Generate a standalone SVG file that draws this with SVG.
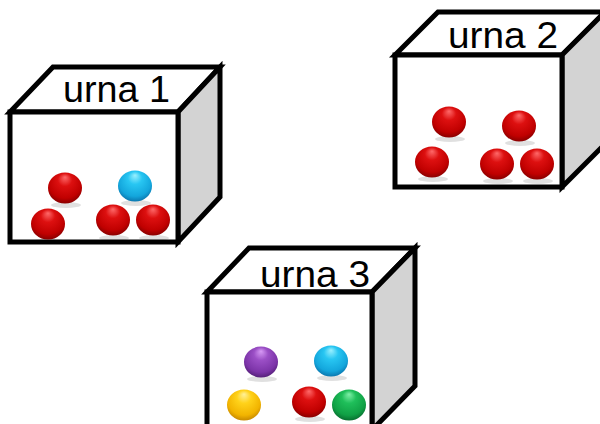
<svg xmlns="http://www.w3.org/2000/svg" width="600" height="424" viewBox="0 0 600 424">
<style>
.f{fill:#fff;stroke:#000;stroke-width:5;stroke-linejoin:miter}
.s{fill:#d3d3d3;stroke:#000;stroke-width:5;stroke-linejoin:miter}
.t{font-family:"Liberation Sans",Arial,sans-serif;font-size:36px;fill:#000}
.sh{fill:#000;opacity:0.12}
</style>
<defs>
<radialGradient id="gR" cx="0.5" cy="0.4" r="0.6" fx="0.5" fy="0.15">
<stop offset="0" stop-color="#ff6a6a"/><stop offset="0.35" stop-color="#dd1010"/><stop offset="0.8" stop-color="#c00000"/><stop offset="1" stop-color="#8a0000"/>
</radialGradient>
<radialGradient id="gB" cx="0.5" cy="0.4" r="0.6" fx="0.5" fy="0.15">
<stop offset="0" stop-color="#9af0ff"/><stop offset="0.35" stop-color="#28c6f2"/><stop offset="0.8" stop-color="#13a6dc"/><stop offset="1" stop-color="#0b78b0"/>
</radialGradient>
<radialGradient id="gP" cx="0.5" cy="0.4" r="0.6" fx="0.5" fy="0.15">
<stop offset="0" stop-color="#d79af5"/><stop offset="0.35" stop-color="#9b4fc6"/><stop offset="0.8" stop-color="#7c34a8"/><stop offset="1" stop-color="#56207a"/>
</radialGradient>
<radialGradient id="gY" cx="0.5" cy="0.4" r="0.6" fx="0.5" fy="0.15">
<stop offset="0" stop-color="#fff19a"/><stop offset="0.35" stop-color="#ffd21a"/><stop offset="0.8" stop-color="#f2b400"/><stop offset="1" stop-color="#c88a00"/>
</radialGradient>
<radialGradient id="gG" cx="0.5" cy="0.4" r="0.6" fx="0.5" fy="0.15">
<stop offset="0" stop-color="#7ff0a8"/><stop offset="0.35" stop-color="#1fbf5a"/><stop offset="0.8" stop-color="#10a045"/><stop offset="1" stop-color="#087030"/>
</radialGradient>
</defs>

<g id="urna1">
<polygon class="f" points="10,112 53,67 220,67 178,112"/>
<polygon class="s" points="178,112 220,67 220,197 178,242"/>
<rect class="f" x="10" y="112" width="168" height="130"/>
<text class="t" x="63" y="102" textLength="107" lengthAdjust="spacingAndGlyphs">urna 1</text>
<ellipse class="sh" cx="66" cy="205" rx="15" ry="3"/>
<ellipse class="sh" cx="136" cy="203" rx="15" ry="3"/>
<ellipse class="sh" cx="49" cy="241" rx="15" ry="2"/>
<ellipse class="sh" cx="114" cy="238" rx="15" ry="3"/>
<ellipse class="sh" cx="154" cy="238" rx="15" ry="3"/>
<ellipse fill="url(#gR)" cx="65" cy="188" rx="17" ry="15.5"/>
<ellipse fill="url(#gB)" cx="135" cy="186" rx="17" ry="15.5"/>
<ellipse fill="url(#gR)" cx="48" cy="224" rx="17" ry="15.5"/>
<ellipse fill="url(#gR)" cx="113" cy="220" rx="17" ry="15.5"/>
<ellipse fill="url(#gR)" cx="153" cy="220" rx="17" ry="15.5"/>
</g>

<g id="urna2">
<polygon class="f" points="395,55 438,12 605,12 562,55"/>
<polygon class="s" points="562,55 605,12 605,144 562,187"/>
<rect class="f" x="395" y="55" width="167" height="132"/>
<text class="t" x="448" y="48" textLength="110" lengthAdjust="spacingAndGlyphs">urna 2</text>
<ellipse class="sh" cx="450" cy="139" rx="15" ry="3"/>
<ellipse class="sh" cx="520" cy="143" rx="15" ry="3"/>
<ellipse class="sh" cx="433" cy="179" rx="15" ry="3"/>
<ellipse class="sh" cx="498" cy="181" rx="15" ry="3"/>
<ellipse class="sh" cx="538" cy="181" rx="15" ry="3"/>
<ellipse fill="url(#gR)" cx="449" cy="122" rx="17" ry="15.5"/>
<ellipse fill="url(#gR)" cx="519" cy="126" rx="17" ry="15.5"/>
<ellipse fill="url(#gR)" cx="432" cy="162" rx="17" ry="15.5"/>
<ellipse fill="url(#gR)" cx="497" cy="164" rx="17" ry="15.5"/>
<ellipse fill="url(#gR)" cx="537" cy="164" rx="17" ry="15.5"/>
</g>

<g id="urna3">
<polygon class="f" points="207,292 249,248 415,248 372,292"/>
<polygon class="s" points="372,292 415,248 415,386 372,430"/>
<rect class="f" x="207" y="292" width="165" height="140"/>
<text class="t" x="260" y="287" textLength="110" lengthAdjust="spacingAndGlyphs">urna 3</text>
<ellipse class="sh" cx="262" cy="379" rx="15" ry="3"/>
<ellipse class="sh" cx="332" cy="378" rx="15" ry="3"/>
<ellipse class="sh" cx="310" cy="419" rx="15" ry="3"/>
<ellipse fill="url(#gP)" cx="261" cy="362" rx="17" ry="15.5"/>
<ellipse fill="url(#gB)" cx="331" cy="361" rx="17" ry="15.5"/>
<ellipse fill="url(#gY)" cx="244" cy="405" rx="17" ry="15.5"/>
<ellipse fill="url(#gR)" cx="309" cy="402" rx="17" ry="15.5"/>
<ellipse fill="url(#gG)" cx="349" cy="405" rx="17" ry="15.5"/>
</g>
</svg>
